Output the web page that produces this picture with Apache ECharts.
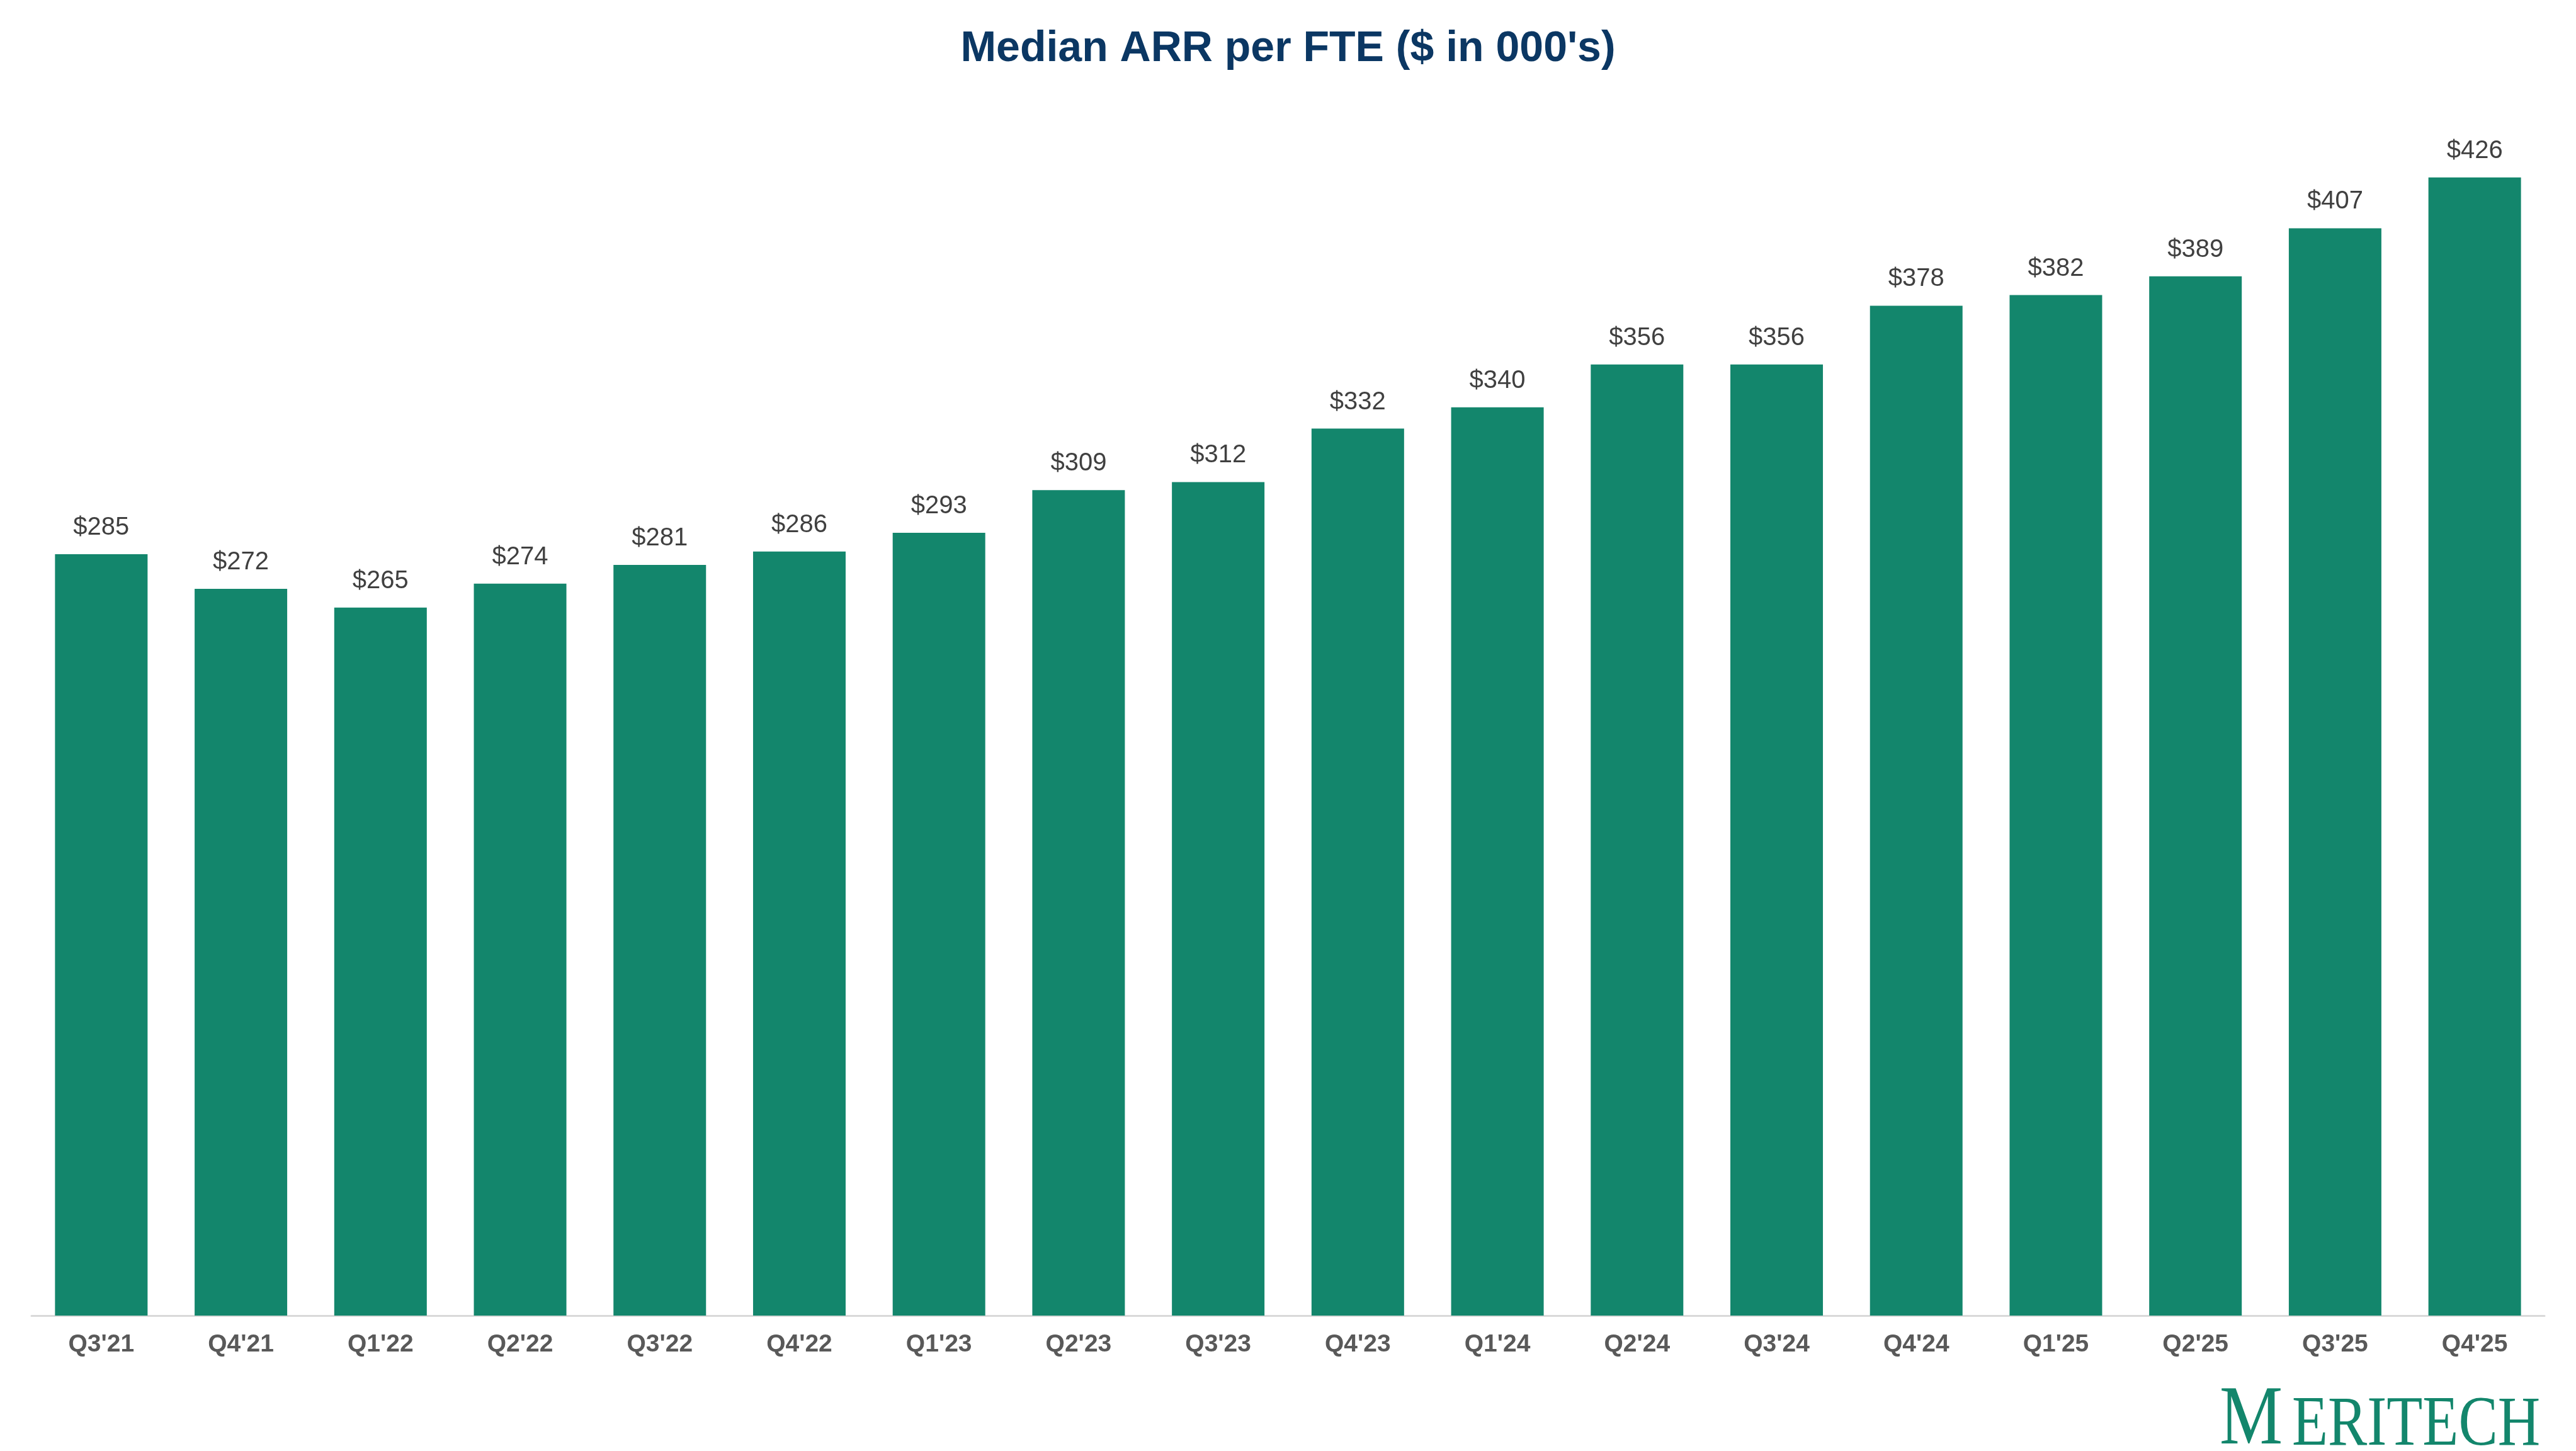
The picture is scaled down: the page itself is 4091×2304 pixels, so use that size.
<!DOCTYPE html>
<html>
<head>
<meta charset="utf-8">
<script src="https://cdn.jsdelivr.net/npm/echarts@6/dist/echarts.min.js"></script>
<style>
html,body{margin:0;padding:0;background:#fff;}
#chart{width:4091px;height:2304px;}
</style>
</head>
<body>
<div id="chart"></div>
<script>
var categories = ["Q3'21","Q4'21","Q1'22","Q2'22","Q3'22","Q4'22","Q1'23","Q2'23","Q3'23","Q4'23","Q1'24","Q2'24","Q3'24","Q4'24","Q1'25","Q2'25","Q3'25","Q4'25"];
var arrPerFte = [285,272,265,274,281,286,293,309,312,332,340,356,356,378,382,389,407,426];
var chartTitle = "Median ARR per FTE ($ in 000's)";

var chart = echarts.init(document.getElementById('chart'), null, {renderer:'canvas', devicePixelRatio:1});
chart.setOption({
  backgroundColor:'#ffffff',
  animation:false,
  title:{
    text: chartTitle,
    left:'center',
    top:39,
    textStyle:{fontFamily:'Liberation Sans, Arial, sans-serif', fontWeight:'bold', fontSize:68, lineHeight:68, color:'#0B3763'}
  },
  grid:{left:50, right:50, top:180, height:1909, containLabel:false},
  xAxis:{
    type:'category',
    data:categories,
    axisLine:{show:true, lineStyle:{color:'#D9D9D9', width:3}},
    axisTick:{show:false},
    axisLabel:{margin:27, fontFamily:'Liberation Sans, Arial, sans-serif', fontWeight:'bold', fontSize:39, lineHeight:39, color:'#595959'}
  },
  yAxis:{
    type:'value', min:0, max:450, show:false,
    splitLine:{show:false}
  },
  series:[{
    type:'bar',
    data:arrPerFte,
    barCategoryGap:'33.7%',
    itemStyle:{color:'#13866C'},
    label:{
      show:true, position:'top', distance:22,
      formatter:function(p){return '$' + p.value;},
      fontFamily:'Liberation Sans, Arial, sans-serif', fontSize:40, lineHeight:40, color:'#404040'
    }
  }],
  graphic:[
    {type:'text', x:3525, y:2257, scaleX:0.84, style:{text:'M', font:'134px "Liberation Serif", serif', fill:'#13866C', align:'left', verticalAlign:'middle'}},
    {type:'text', x:3640, y:2264, scaleX:0.826, style:{text:'ERITECH', font:'113px "Liberation Serif", serif', fill:'#13866C', align:'left', verticalAlign:'middle'}}
  ]
});
</script>
</body>
</html>
